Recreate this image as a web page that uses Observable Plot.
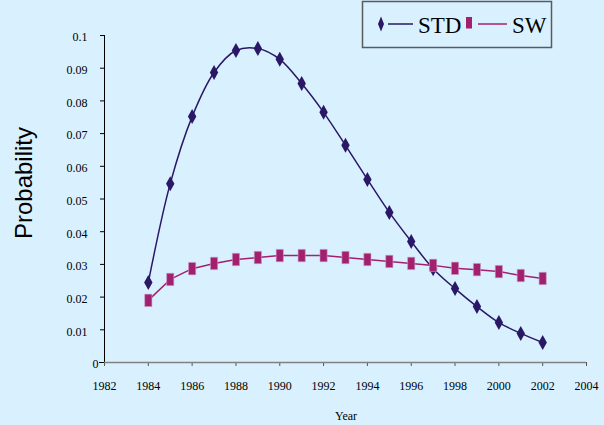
<!DOCTYPE html>
<html>
<head>
<meta charset="utf-8">
<script src="https://cdn.jsdelivr.net/npm/d3@7"></script>
<script src="https://cdn.jsdelivr.net/npm/@observablehq/plot@0.6"></script>
<style>
  html, body { margin: 0; padding: 0; background: #D9F1FF; }
  #chart { width: 604px; height: 425px; }
</style>
</head>
<body>
<div id="chart"></div>
<script>
const years = [1984, 1985, 1986, 1987, 1988, 1989, 1990, 1991, 1992, 1993, 1994, 1995, 1996, 1997, 1998, 1999, 2000, 2001, 2002];
const stdValues = [0.0245, 0.0547, 0.0752, 0.0887, 0.0954, 0.0960, 0.0927, 0.0853, 0.0765, 0.0664, 0.0560, 0.0459, 0.0370, 0.0287, 0.0226, 0.0171, 0.0122, 0.0089, 0.0061];
const swValues = [0.0190, 0.0254, 0.0287, 0.0303, 0.0315, 0.0321, 0.0327, 0.0327, 0.0327, 0.0321, 0.0315, 0.0309, 0.0303, 0.0297, 0.0288, 0.0284, 0.0278, 0.0266, 0.0257];
const xTicks = [1982, 1984, 1986, 1988, 1990, 1992, 1994, 1996, 1998, 2000, 2002, 2004];
const yTicks = [0.01, 0.02, 0.03, 0.04, 0.05, 0.06, 0.07, 0.08, 0.09, 0.1];
const seriesNames = ["STD", "SW"];
const seriesColors = ["#2A1766", "#A3206F"];

const std = years.map((y, i) => ({year: y, value: stdValues[i]}));
const sw = years.map((y, i) => ({year: y, value: swValues[i]}));

const serif = "'Liberation Serif', 'Times New Roman', serif";
const tallDiamond = {draw(ctx) { ctx.moveTo(0, -7.5); ctx.lineTo(4.2, 0); ctx.lineTo(0, 7.5); ctx.lineTo(-4.2, 0); ctx.closePath(); }};
const tallRect = {draw(ctx) { ctx.rect(-3.6, -6.2, 7.2, 12.4); }};

const chart = Plot.plot({
  width: 604, height: 425,
  marginLeft: 104, marginRight: 18, marginTop: 35, marginBottom: 63,
  style: {background: "#D9F1FF", fontSize: "12px", color: "#000", overflow: "visible"},
  x: {domain: [1982, 2004], label: null},
  y: {domain: [0, 0.1], label: null},
  marks: [
    Plot.axisX({ticks: xTicks, tickFormat: "d", tickSize: 4, tickPadding: 15, label: null, stroke: "#555", fontSize: 12, fill: "#000"}),
    Plot.axisY({ticks: yTicks, tickFormat: d => String(+d.toFixed(2)), tickSize: 4, tickPadding: 13, label: null, fontSize: 12, fill: "#000"}),
    Plot.axisY({ticks: [0], tickFormat: () => "0", tickSize: 5, tickPadding: 1, label: null, fontSize: 12, fill: "#000"}),
    Plot.ruleX([1982], {stroke: "#000", strokeWidth: 1}),
    Plot.ruleY([0], {stroke: "#808080", strokeWidth: 1.5}),
    Plot.line(std, {x: "year", y: "value", stroke: seriesColors[0], strokeWidth: 1.5, curve: "catmull-rom"}),
    Plot.line(sw, {x: "year", y: "value", stroke: seriesColors[1], strokeWidth: 1.5}),
    Plot.dot(std, {x: "year", y: "value", symbol: tallDiamond, fill: seriesColors[0], stroke: "none", r: 5}),
    Plot.dot(sw, {x: "year", y: "value", symbol: tallRect, fill: seriesColors[1], stroke: "#c9a0c8", strokeWidth: 0.6, r: 5})
  ]
});
document.getElementById("chart").appendChild(chart);

const svg = d3.select(chart);
svg.style("font-family", serif).attr("font-family", serif);
svg.selectAll("text").style("font-family", serif).attr("font-family", serif);
svg.selectAll('g[aria-label="y-axis tick label"]').each(function() {
  const t = this.getAttribute("transform") || "";
  this.setAttribute("transform", (t + " translate(0,2)").trim());
});

// axis titles
svg.append("text").attr("x", 346).attr("y", 420).attr("text-anchor", "middle")
  .style("font-family", serif).attr("font-size", 12).attr("fill", "#000").text("Year");
svg.append("text").attr("transform", "translate(32,183) rotate(-90)").attr("text-anchor", "middle")
  .style("font-family", "'Liberation Sans', Arial, sans-serif").attr("font-size", 24).attr("fill", "#000").text("Probability");

// legend
const lg = svg.append("g").attr("text-anchor", "start");
lg.append("rect").attr("x", 362.5).attr("y", 1.5).attr("width", 189).attr("height", 46)
  .attr("fill", "#D9F1FF").attr("stroke", "#5a5a5a").attr("stroke-width", 1.5);
lg.append("path").attr("d", "M381,16.5L384,24L381,31.5L378,24Z").attr("fill", seriesColors[0]);
lg.append("line").attr("x1", 388).attr("x2", 413).attr("y1", 24).attr("y2", 24).attr("stroke", seriesColors[0]).attr("stroke-width", 1.5);
lg.append("text").attr("x", 418).attr("y", 33).attr("text-anchor", "start").style("font-family", serif).attr("font-size", 23).attr("fill", "#000").text(seriesNames[0]);
lg.append("rect").attr("x", 466).attr("y", 17).attr("width", 6).attr("height", 11.5).attr("fill", seriesColors[1]);
lg.append("line").attr("x1", 478).attr("x2", 507).attr("y1", 24).attr("y2", 24).attr("stroke", seriesColors[1]).attr("stroke-width", 1.5);
lg.append("text").attr("x", 512).attr("y", 33).attr("text-anchor", "start").style("font-family", serif).attr("font-size", 23).attr("fill", "#000").text(seriesNames[1]);
</script>
</body>
</html>
